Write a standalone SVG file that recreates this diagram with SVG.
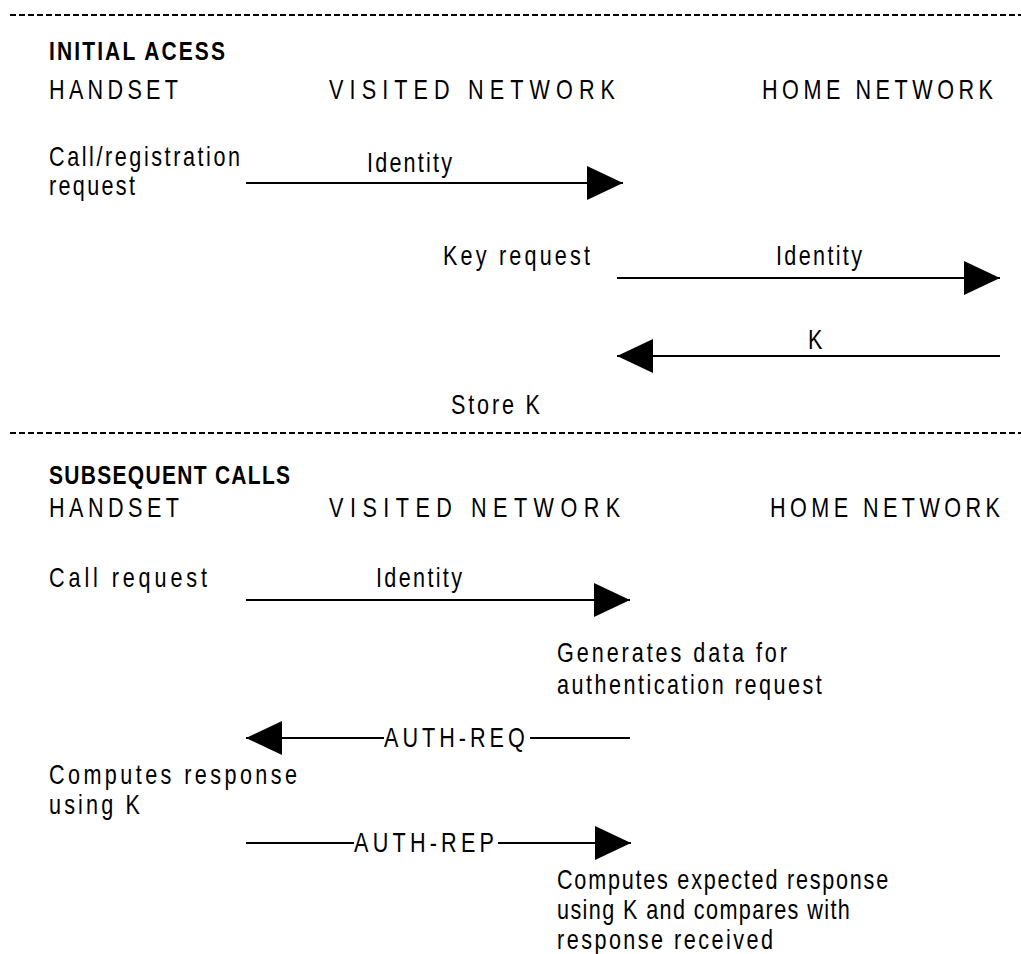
<svg xmlns="http://www.w3.org/2000/svg" width="1021" height="954" viewBox="0 0 1021 954">
<style>
.t{font-family:"Liberation Sans",Arial,sans-serif;font-size:27px;fill:#000}
.b{font-family:"Liberation Sans",Arial,sans-serif;font-size:25px;font-weight:bold;fill:#000}
.ln{stroke:#000;stroke-width:2;fill:none}
.dash{stroke:#000;stroke-width:2;stroke-dasharray:6 3;fill:none}
</style>
<defs>
<marker id="ah" markerUnits="userSpaceOnUse" markerWidth="36" markerHeight="34" refX="36" refY="17" orient="auto">
<path d="M0,0 L36,17 L0,34 Z" fill="#000"/>
</marker>
</defs>
<rect width="1021" height="954" fill="#fff"/>
<g id="separators">
<line class="dash" x1="10" y1="15" x2="1021" y2="15"/>
<line class="dash" x1="10" y1="433" x2="1021" y2="433"/>
</g>
<g id="section1-title"><text class="b" transform="matrix(0.84,0,0,1,49,60)" textLength="209.5" lengthAdjust="spacing">INITIAL ACESS</text></g>
<g id="s1-handset"><text class="t" transform="matrix(0.8,0,0,1,49,99)" textLength="161.25" lengthAdjust="spacing">HANDSET</text></g>
<g id="s1-visited"><text class="t" transform="matrix(0.8,0,0,1,329,99)" textLength="357.5" lengthAdjust="spacing">VISITED NETWORK</text></g>
<g id="s1-home"><text class="t" transform="matrix(0.8,0,0,1,762,99)" textLength="288.75" lengthAdjust="spacing">HOME NETWORK</text></g>
<g id="s1-callreg">
<text class="t" transform="matrix(0.8,0,0,1,49,166)" textLength="238.75" lengthAdjust="spacing">Call/registration</text>
<text class="t" transform="matrix(0.8,0,0,1,49,195)" textLength="107.5" lengthAdjust="spacing">request</text>
</g>
<g id="s1-keyreq"><text class="t" transform="matrix(0.8,0,0,1,443,265)" textLength="183.75" lengthAdjust="spacing">Key request</text></g>
<g id="s1-store"><text class="t" transform="matrix(0.8,0,0,1,451,414)" textLength="111.25" lengthAdjust="spacing">Store K</text></g>
<g id="section2-title"><text class="b" transform="matrix(0.84,0,0,1,49,484)" textLength="287" lengthAdjust="spacing">SUBSEQUENT CALLS</text></g>
<g id="s2-handset"><text class="t" transform="matrix(0.8,0,0,1,49,517)" textLength="162.5" lengthAdjust="spacing">HANDSET</text></g>
<g id="s2-visited"><text class="t" transform="matrix(0.8,0,0,1,329,517)" textLength="364" lengthAdjust="spacing">VISITED NETWORK</text></g>
<g id="s2-home"><text class="t" transform="matrix(0.8,0,0,1,770,517)" textLength="287.5" lengthAdjust="spacing">HOME NETWORK</text></g>
<g id="s2-callreq"><text class="t" transform="matrix(0.8,0,0,1,49,587)" textLength="197.5" lengthAdjust="spacing">Call request</text></g>
<g id="s2-generates">
<text class="t" transform="matrix(0.8,0,0,1,557,662)" textLength="287.5" lengthAdjust="spacing">Generates data for</text>
<text class="t" transform="matrix(0.8,0,0,1,557,694)" textLength="331" lengthAdjust="spacing">authentication request</text>
</g>
<g id="s2-computes">
<text class="t" transform="matrix(0.8,0,0,1,49,784)" textLength="310" lengthAdjust="spacing">Computes response</text>
<text class="t" transform="matrix(0.8,0,0,1,49,814)" textLength="113.75" lengthAdjust="spacing">using K</text>
</g>
<g id="s2-expected">
<text class="t" transform="matrix(0.8,0,0,1,557,889)" textLength="414" lengthAdjust="spacing">Computes expected response</text>
<text class="t" transform="matrix(0.8,0,0,1,557,919)" textLength="366" lengthAdjust="spacing">using K and compares with</text>
<text class="t" transform="matrix(0.8,0,0,1,557,949)" textLength="270" lengthAdjust="spacing">response received</text>
</g>
<g id="connectors">
<line class="ln" x1="246" y1="183" x2="623" y2="183" marker-end="url(#ah)"/>
<text class="t" transform="matrix(0.8,0,0,1,367,172)" textLength="106.25" lengthAdjust="spacing">Identity</text>
<line class="ln" x1="617" y1="278" x2="1000" y2="278" marker-end="url(#ah)"/>
<text class="t" transform="matrix(0.8,0,0,1,776,265)" textLength="107.5" lengthAdjust="spacing">Identity</text>
<line class="ln" x1="1000" y1="356" x2="617" y2="356" marker-end="url(#ah)"/>
<text class="t" transform="matrix(0.8,0,0,1,808,349)">K</text>
<line class="ln" x1="246" y1="600" x2="630" y2="600" marker-end="url(#ah)"/>
<text class="t" transform="matrix(0.8,0,0,1,376,587)" textLength="107.5" lengthAdjust="spacing">Identity</text>
<line class="ln" x1="384" y1="738" x2="246" y2="738" marker-end="url(#ah)"/>
<line class="ln" x1="530" y1="738" x2="630" y2="738"/>
<text class="t" transform="matrix(0.8,0,0,1,384,747)" textLength="176" lengthAdjust="spacing">AUTH-REQ</text>
<line class="ln" x1="246" y1="843" x2="354" y2="843"/>
<line class="ln" x1="498" y1="843" x2="631" y2="843" marker-end="url(#ah)"/>
<text class="t" transform="matrix(0.8,0,0,1,354,852)" textLength="175" lengthAdjust="spacing">AUTH-REP</text>
</g>
</svg>
